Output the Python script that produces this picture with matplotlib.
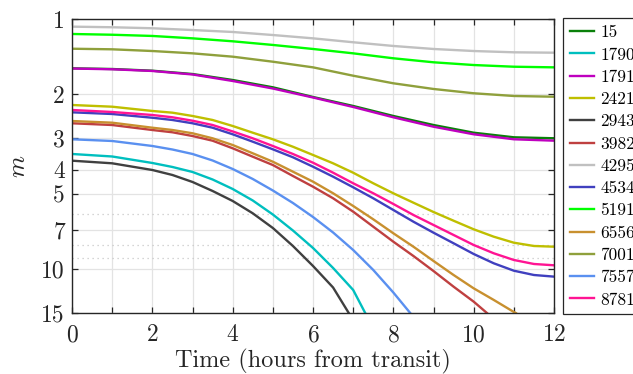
import matplotlib
matplotlib.use('Agg')
import matplotlib.pyplot as plt
from matplotlib.ticker import FixedLocator, FixedFormatter, NullFormatter

plt.rcParams['font.family'] = 'serif'
plt.rcParams['font.serif'] = ['cmr10', 'DejaVu Serif']
plt.rcParams['mathtext.fontset'] = 'cm'
plt.rcParams['axes.formatter.use_mathtext'] = True

# magnitude vs time (hours from transit)
hours = [0, 1, 2, 3, 4, 5, 6, 7, 8, 9, 10, 11, 12]

m_15 = [1.575, 1.585, 1.61, 1.66, 1.754, 1.876, 2.051, 2.228, 2.443, 2.655, 2.85, 2.973, 3.0]
m_1791 = [1.578, 1.589, 1.614, 1.667, 1.77, 1.897, 2.061, 2.249, 2.473, 2.697, 2.892, 3.028, 3.067]
m_4295 = [1.073, 1.079, 1.089, 1.107, 1.127, 1.159, 1.195, 1.239, 1.282, 1.318, 1.343, 1.359, 1.364]
m_5191 = [1.148, 1.156, 1.169, 1.195, 1.228, 1.27, 1.318, 1.372, 1.436, 1.49, 1.528, 1.552, 1.561]
m_7001 = [1.315, 1.322, 1.343, 1.372, 1.415, 1.482, 1.561, 1.686, 1.808, 1.905, 1.982, 2.032, 2.046]

# fainter ones bend more, so they were read every half hour
t_half = [0, 1, 2, 2.5, 3, 3.5, 4, 4.5, 5, 5.5, 6, 6.5, 7, 7.5, 8, 8.5, 9, 9.5,
          10, 10.5, 11, 11.5, 12]
m_2421 = [2.208, 2.243, 2.333, 2.370, 2.443, 2.535, 2.679, 2.850, 3.028, 3.243, 3.499,
          3.778, 4.120, 4.541, 4.980, 5.430, 5.916, 6.411, 6.937, 7.427, 7.850, 8.091, 8.144]
m_8781 = [2.312, 2.355, 2.421, 2.473, 2.552, 2.655, 2.817, 3.001, 3.221, 3.467, 3.757,
          4.119, 4.541, 4.979, 5.495, 6.081, 6.668, 7.311, 8.017, 8.655, 9.204, 9.550, 9.666]
m_4534 = [2.362, 2.399, 2.483, 2.535, 2.613, 2.722, 2.892, 3.096, 3.321, 3.574, 3.898,
          4.273, 4.712, 5.214, 5.807, 6.469, 7.158, 7.892, 8.710, 9.490, 10.16, 10.57, 10.73]

# these leave the plot (m = 15) before 12 h
t_6556 = [0, 1, 2, 2.5, 3, 3.5, 4, 4.5, 5, 5.5, 6, 6.5, 7, 7.5, 8, 8.5, 9, 9.5, 10, 10.5, 11, 11.05]
m_6556 = [2.559, 2.599, 2.722, 2.780, 2.865, 3.001, 3.192, 3.445, 3.723, 4.081, 4.474,
          4.979, 5.597, 6.328, 7.198, 8.144, 9.290, 10.57, 11.95, 13.30, 14.86, 15]
t_3982 = [0, 1, 2, 2.5, 3, 3.5, 4, 4.5, 5, 5.5, 6, 6.5, 7, 7.5, 8, 8.5, 9, 9.5, 10, 10.33]
m_3982 = [2.613, 2.655, 2.780, 2.839, 2.938, 3.068, 3.290, 3.555, 3.838, 4.246, 4.686,
          5.214, 5.898, 6.773, 7.777, 8.872, 10.19, 11.77, 13.51, 15]
t_7557 = [0, 1, 2, 2.5, 3, 3.5, 4, 4.5, 5, 5.5, 6, 6.5, 7, 7.5, 8, 8.42]
m_7557 = [3.028, 3.076, 3.221, 3.327, 3.467, 3.681, 3.981, 4.365, 4.853, 5.445, 6.195,
          7.145, 8.395, 10.09, 12.42, 15]
t_1790 = [0, 1, 2, 2.5, 3, 3.5, 4, 4.5, 5, 5.5, 6, 6.5, 7, 7.30]
m_1790 = [3.467, 3.548, 3.767, 3.908, 4.092, 4.385, 4.786, 5.321, 6.054, 7.015, 8.241,
          9.908, 12.13, 15]
t_2943 = [0, 1, 2, 2.5, 3, 3.5, 4, 4.5, 5, 5.5, 6, 6.5, 6.89]
m_2943 = [3.688, 3.778, 4.018, 4.207, 4.487, 4.875, 5.345, 5.988, 6.855, 8.091, 9.727,
          11.86, 15]

series = [
    ('15', hours, m_15, '#0a800a'),
    ('1790', t_1790, m_1790, '#00bfbf'),
    ('1791', hours, m_1791, '#bf00bf'),
    ('2421', t_half, m_2421, '#bfbf00'),
    ('2943', t_2943, m_2943, '#404040'),
    ('3982', t_3982, m_3982, '#bf4040'),
    ('4295', hours, m_4295, '#c0c0c0'),
    ('4534', t_half, m_4534, '#4040bf'),
    ('5191', hours, m_5191, '#00ff00'),
    ('6556', t_6556, m_6556, '#c8902f'),
    ('7001', hours, m_7001, '#8fa03c'),
    ('7557', t_7557, m_7557, '#5a90f0'),
    ('8781', t_half, m_8781, '#ff1493'),
]

y_major = [1, 2, 3, 4, 5, 7, 10, 15]
y_minor = [6, 8, 9]

fig = plt.figure(figsize=(6.33, 3.74), dpi=100)
ax = fig.add_axes([72 / 633, 61 / 374, 482 / 633, 294 / 374])

for name, t, m, c in series:
    ax.plot(t, m, color=c, lw=1.7, label=name, solid_joinstyle='round')

ax.set_yscale('log')
ax.set_ylim(15, 1)
ax.set_xlim(0, 12)
ax.yaxis.set_major_locator(FixedLocator(y_major))
ax.yaxis.set_major_formatter(FixedFormatter([str(v) for v in y_major]))
ax.yaxis.set_minor_locator(FixedLocator(y_minor))
ax.yaxis.set_minor_formatter(NullFormatter())
ax.set_xticks(range(0, 13, 2))
ax.set_xticks(range(1, 13, 2), minor=True)

ax.grid(True, which='major', color='#e3e3e3', lw=0.9)
ax.xaxis.grid(True, which='minor', color='#e3e3e3', lw=0.9)
ax.yaxis.grid(True, which='minor', color='#c8c8c8', lw=0.9, ls=(0, (1, 3)))
ax.set_axisbelow(True)

ax.tick_params(which='major', direction='in', top=True, right=True, length=4,
               width=0.9, color='#262626', labelsize=17, labelcolor='#262626', pad=5)
ax.tick_params(axis='x', which='major', pad=8)
ax.tick_params(axis='x', which='minor', direction='in', top=True, length=4, width=0.9,
               color='#262626')
ax.tick_params(axis='y', which='minor', length=0)
for s in ax.spines.values():
    s.set_color('#262626')
    s.set_linewidth(1.0)

ax.set_xlabel('Time (hours from transit)', fontsize=17.5, color='#262626', labelpad=2)
ax.set_ylabel(r'$m$', fontsize=18, color='#262626', labelpad=8)

leg = ax.legend(loc='upper left', bbox_to_anchor=(563 / 633, 1 - 18 / 374),
                bbox_transform=fig.transFigure, borderaxespad=0, fontsize=12.5,
                handlelength=1.4, handletextpad=0.35, borderpad=0.4,
                labelspacing=0.4, fancybox=False, edgecolor='#262626', framealpha=1)
leg.get_frame().set_linewidth(0.9)

fig.savefig('out.png', dpi=100)
